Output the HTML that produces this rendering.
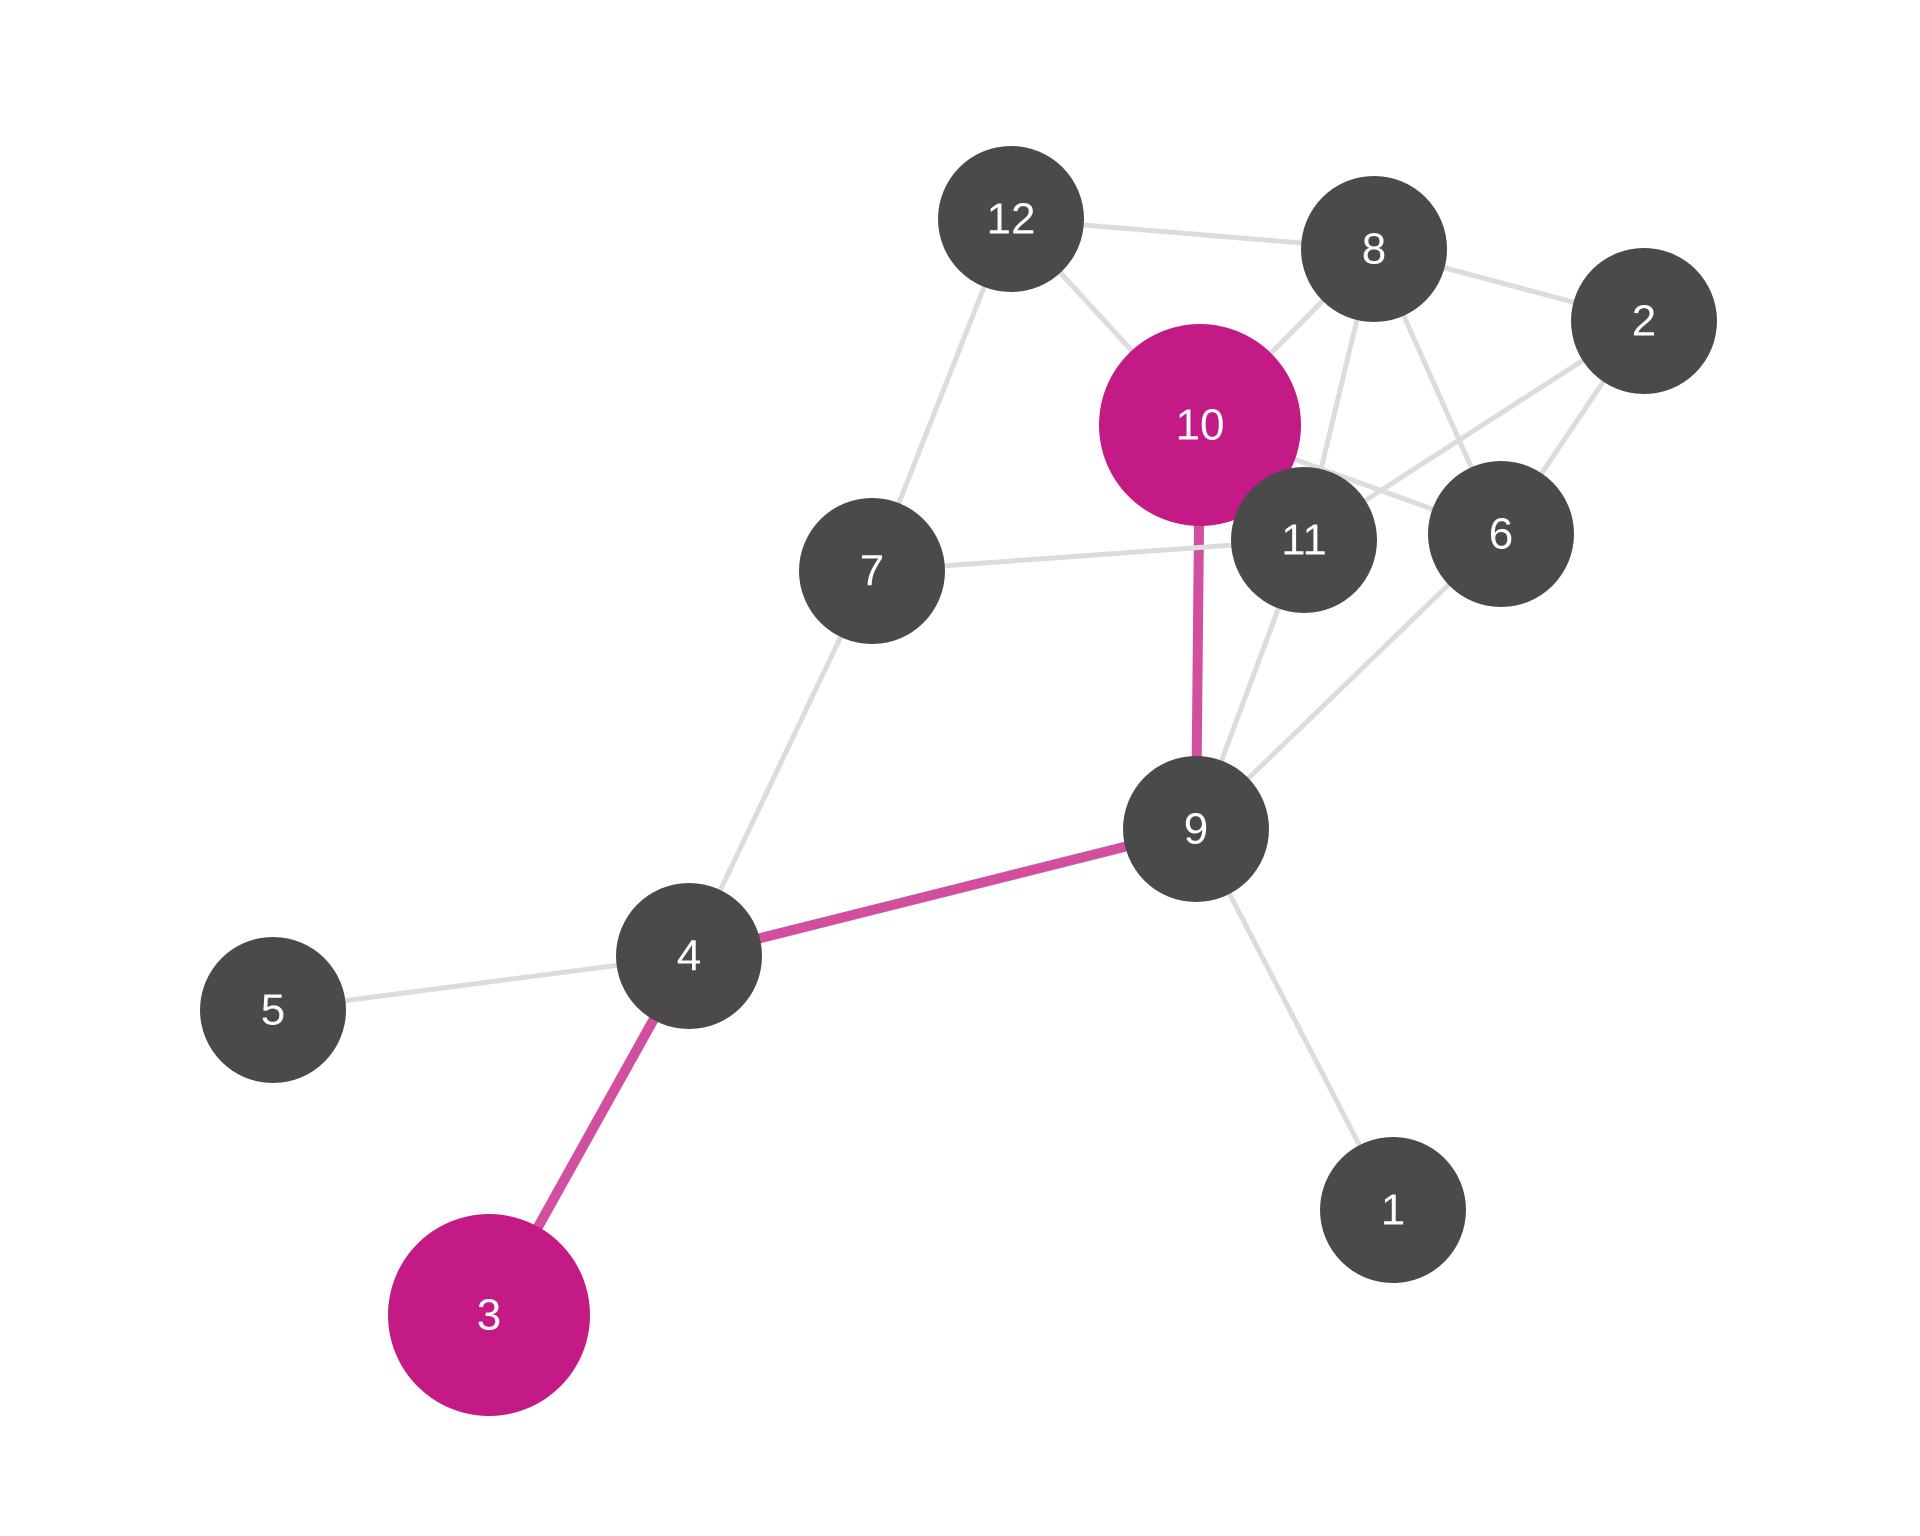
<!DOCTYPE html>
<html><head><meta charset="utf-8"><style>
html,body{margin:0;padding:0;background:#fff;}
svg{display:block;}
text{font-family:"Liberation Sans",sans-serif;font-size:44px;fill:#fff;text-anchor:middle;dominant-baseline:central;}
</style></head><body>
<svg width="1920" height="1536" viewBox="0 0 1920 1536" xmlns="http://www.w3.org/2000/svg">
<g stroke="#d0449a" stroke-opacity="0.95" stroke-width="10">
<line x1="1200" y1="425" x2="1196" y2="829"/>
<line x1="689" y1="956" x2="1196" y2="829"/>
<line x1="689" y1="956" x2="489" y2="1315"/>
</g>
<g stroke="#dcdcdc" stroke-width="5">
<line x1="1011" y1="219" x2="1374" y2="249"/>
<line x1="1011" y1="219" x2="1200" y2="425"/>
<line x1="1011" y1="219" x2="872" y2="571"/>
<line x1="1374" y1="249" x2="1644" y2="321"/>
<line x1="1374" y1="249" x2="1200" y2="425"/>
<line x1="1374" y1="249" x2="1304" y2="540"/>
<line x1="1374" y1="249" x2="1501" y2="534"/>
<line x1="1644" y1="321" x2="1304" y2="540"/>
<line x1="1644" y1="321" x2="1501" y2="534"/>
<line x1="1200" y1="425" x2="1501" y2="534"/>
<line x1="872" y1="571" x2="1304" y2="540"/>
<line x1="1304" y1="540" x2="1196" y2="829"/>
<line x1="1501" y1="534" x2="1196" y2="829"/>
<line x1="1196" y1="829" x2="1393" y2="1210"/>
<line x1="872" y1="571" x2="689" y2="956"/>
<line x1="689" y1="956" x2="273" y2="1010"/>
</g>
<g fill="#4a4a4a">
<circle cx="1011" cy="219" r="73"/>
<circle cx="1374" cy="249" r="73"/>
<circle cx="1644" cy="321" r="73"/>
<circle cx="1200" cy="425" r="101" fill="#c41a86"/>
<circle cx="1304" cy="540" r="73"/>
<circle cx="1501" cy="534" r="73"/>
<circle cx="872" cy="571" r="73"/>
<circle cx="1196" cy="829" r="73"/>
<circle cx="689" cy="956" r="73"/>
<circle cx="273" cy="1010" r="73"/>
<circle cx="1393" cy="1210" r="73"/>
<circle cx="489" cy="1315" r="101" fill="#c41a86"/>
</g>
<text x="1011" y="219">12</text>
<text x="1374" y="249">8</text>
<text x="1644" y="321">2</text>
<text x="1200" y="425">10</text>
<text x="1304" y="540">11</text>
<text x="1501" y="534">6</text>
<text x="872" y="571">7</text>
<text x="1196" y="829">9</text>
<text x="689" y="956">4</text>
<text x="273" y="1010">5</text>
<text x="1393" y="1210">1</text>
<text x="489" y="1315">3</text>
</svg>
</body></html>
